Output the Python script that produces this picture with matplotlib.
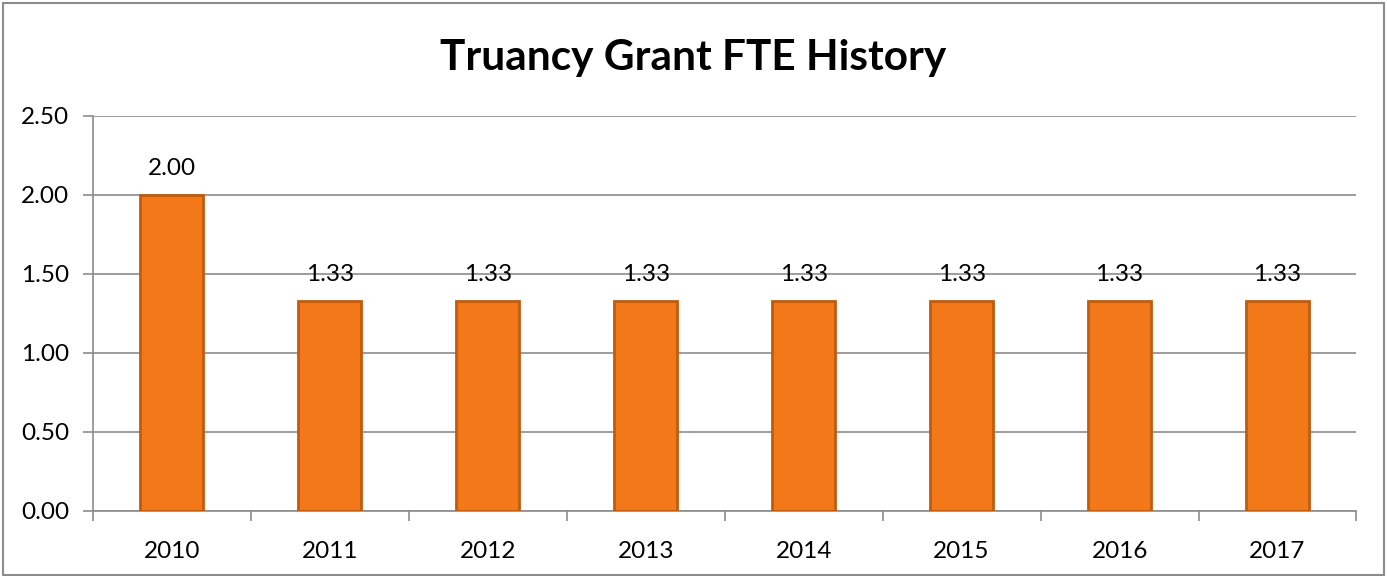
import matplotlib.pyplot as plt
import numpy as np
from matplotlib.patches import Rectangle

years = ["2010", "2011", "2012", "2013", "2014", "2015", "2016", "2017"]
fte = [2.00, 1.33, 1.33, 1.33, 1.33, 1.33, 1.33, 1.33]
yticks = [0.0, 0.5, 1.0, 1.5, 2.0, 2.5]


def main():
    plt.rcParams['font.family'] = ['Lato', 'DejaVu Sans']

    fig = plt.figure(figsize=(13.87, 5.76), dpi=100)
    ax = fig.add_axes([0.067, 0.113, 0.911, 0.686])

    x = np.arange(len(years))
    ax.bar(x, fte, width=0.4, color='#F2781A', edgecolor='#BF5C0E',
           linewidth=2, zorder=3)

    for xi, v in zip(x, fte):
        ax.text(xi, v + 0.1, '%.2f' % v, ha='center', va='bottom',
                fontsize=17.5, zorder=4)

    ax.set_xlim(-0.5, len(years) - 0.5)
    ax.set_ylim(0, 2.5)
    ax.set_yticks(yticks)
    ax.set_yticklabels(['%.2f' % t for t in yticks], fontsize=17.5)
    ax.yaxis.grid(True, color='#8c8c8c', linewidth=1.2, zorder=0)

    # category labels centred, tick marks between categories
    ax.set_xticks(x)
    ax.set_xticklabels(years, fontsize=17.5)
    ax.tick_params(axis='x', length=0, pad=22)
    ax.set_xticks(np.arange(-0.5, len(years)), minor=True)
    ax.tick_params(axis='x', which='minor', length=7, color='#8c8c8c',
                   width=1.2)
    ax.tick_params(axis='y', length=7, color='#8c8c8c', width=1.2, pad=10)

    for side in ['top', 'right']:
        ax.spines[side].set_visible(False)
    for side in ['left', 'bottom']:
        ax.spines[side].set_color('#8c8c8c')
        ax.spines[side].set_linewidth(1.2)

    fig.text(0.5, 0.9, 'Truancy Grant FTE History', ha='center', va='center',
             fontsize=30.5, fontweight='bold')

    # outer chart border
    fig.patches.append(Rectangle((0.002, 0.002), 0.996, 0.993,
                                 transform=fig.transFigure, fill=False,
                                 edgecolor='#8c8c8c', linewidth=1.5))

    fig.savefig('out.png', dpi=100)


if __name__ == "__main__":
    main()
